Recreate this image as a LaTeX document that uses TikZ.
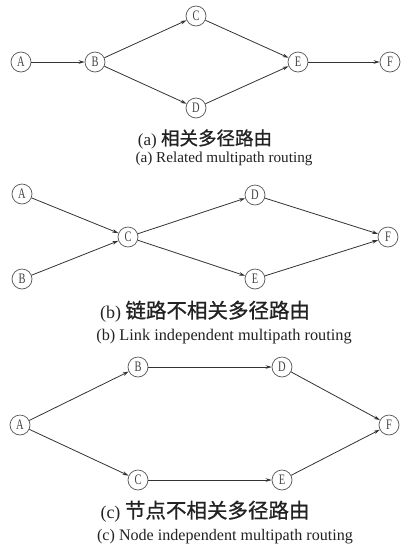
\documentclass[tikz,border=0pt]{standalone}
\usepackage{fontspec}
\setmainfont{Liberation Serif}
\newfontfamily\cjk[FakeBold=0.8]{Noto Sans CJK SC}
\newfontfamily\narrow[FakeStretch=0.72]{Liberation Serif}
\usetikzlibrary{arrows.meta}
\definecolor{ink}{HTML}{222222}
\definecolor{edge}{HTML}{333333}
\definecolor{ring}{HTML}{555555}
\definecolor{lbl}{HTML}{444444}
\tikzset{
  vtx/.style={circle, draw=ring, line width=0.7pt, minimum size=20pt, inner sep=0pt,
    font=\narrow\fontsize{14.5}{14.5}\selectfont, text=lbl},
  link/.style={draw=edge, line width=0.8pt, -{Stealth[length=6pt,width=3.6pt]}},
  capcn/.style={anchor=base, text=ink, inner sep=0pt},
  capen/.style={anchor=base, text=ink, inner sep=0pt},
}
\begin{document}
\begin{tikzpicture}[x=1pt,y=-1pt]
\useasboundingbox[fill=white] (0,0) rectangle (410,550);
% (a)
\node[vtx] (aA) at (21,62) {A};
\node[vtx] (aB) at (95,62) {B};
\node[vtx] (aC) at (196,16) {C};
\node[vtx] (aD) at (196,108) {D};
\node[vtx] (aE) at (298,62) {E};
\node[vtx] (aF) at (390,62) {F};
\draw[link] (aA) -- (aB);
\draw[link] (aB) -- (aC);
\draw[link] (aB) -- (aD);
\draw[link] (aC) -- (aE);
\draw[link] (aD) -- (aE);
\draw[link] (aE) -- (aF);
\node[capcn, font=\fontsize{17}{17}\selectfont] (acn) at (205,145) {(a) {\cjk\fontsize{18.5}{18.5}\selectfont 相关多径路由}};
\node[capen, font=\fontsize{15.2}{15.2}\selectfont] (aen) at (224,162) {(a) Related multipath routing};
% (b)
\node[vtx] (bA) at (22,194) {A};
\node[vtx] (bB) at (22,279) {B};
\node[vtx] (bC) at (128,237) {C};
\node[vtx] (bD) at (255,195) {D};
\node[vtx] (bE) at (255,279) {E};
\node[vtx] (bF) at (388,237) {F};
\draw[link] (bA) -- (bC);
\draw[link] (bB) -- (bC);
\draw[link] (bC) -- (bD);
\draw[link] (bC) -- (bE);
\draw[link] (bD) -- (bF);
\draw[link] (bE) -- (bF);
\node[capcn, font=\fontsize{18}{18}\selectfont] (bcn) at (205,318) {(b) {\cjk\fontsize{20.5}{20.5}\selectfont 链路不相关多径路由}};
\node[capen, font=\fontsize{16.3}{16.3}\selectfont] (ben) at (224,340) {(b) Link independent multipath routing};
% (c)
\node[vtx] (cA) at (20,425) {A};
\node[vtx] (cB) at (138,367) {B};
\node[vtx] (cD) at (282,367) {D};
\node[vtx] (cC) at (138,480) {C};
\node[vtx] (cE) at (282,480) {E};
\node[vtx] (cF) at (389,425) {F};
\draw[link] (cA) -- (cB);
\draw[link] (cA) -- (cC);
\draw[link] (cB) -- (cD);
\draw[link] (cC) -- (cE);
\draw[link] (cD) -- (cF);
\draw[link] (cE) -- (cF);
\node[capcn, font=\fontsize{18}{18}\selectfont] (ccn) at (205,518) {(c) {\cjk\fontsize{20.5}{20.5}\selectfont 节点不相关多径路由}};
\node[capen, font=\fontsize{16.1}{16.1}\selectfont] (cen) at (225,540) {(c) Node independent multipath routing};
\end{tikzpicture}
\end{document}
